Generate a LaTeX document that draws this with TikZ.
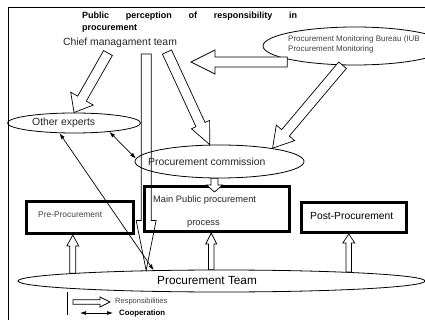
\documentclass[tikz,border=0pt]{standalone}
\usepackage{fontspec}
\setmainfont{Liberation Sans}
\usetikzlibrary{arrows.meta,calc,shapes.geometric}
\tikzset{%
	bubble/.style   = {draw, ellipse, line width=0.8pt, inner sep=0pt},
	stage/.style    = {draw, rectangle, line width=2.6pt, inner sep=0pt},
	txt/.style      = {inner sep=0pt, font=\fontsize{10.4}{12}\selectfont, text=black!85},
	smalltxt/.style = {inner sep=0pt, font=\fontsize{7.5}{9}\selectfont, text=black!75},
	resp/.style     = {draw, fill=white, line width=0.7pt}, % Responsibility
	coop/.style     = {line width=0.7pt, {Latex[length=6pt,width=4pt]}-{Latex[length=6pt,width=4pt]}}, % Cooperation
}
% hollow arrow: from, to, shaft width, head width, head length
\newcommand{\resparrow}[6][]{%
	\draw [resp,#1] let \p1=#2, \p2=#3, \n1={atan2(\y2-\y1,\x2-\x1)}, \n2={veclen(\x2-\x1,\y2-\y1)} in
		[shift={(\p1)}, rotate=\n1] (0,{#4/2}) -- ({\n2-#6},{#4/2}) -- ({\n2-#6},{#5/2}) -- (\n2,0)
		-- ({\n2-#6},{-#5/2}) -- ({\n2-#6},{-#4/2}) -- (0,{-#4/2}) -- cycle;}

\begin{document}
\begin{tikzpicture}[x=1pt,y=-1pt]
	\useasboundingbox (0,0) rectangle (425,320);
	\draw [line width=0.8pt] (425,7) -- (8,7) -- (8,320);

	\node [anchor=north west, inner sep=0pt, align=left, font=\bfseries\fontsize{9}{12}\selectfont] (title) at (82,11.4)
		{\makebox[215pt][s]{Public perception of responsibility in}\\procurement};
	\node [txt] (chief) at (120,43) {Chief managament team};
	\node [bubble, minimum width=184pt, minimum height=38pt] (iub) at (355,46) {};
	\node [smalltxt, anchor=north west, align=left, font=\fontsize{8}{9.5}\selectfont] (iublbl) at (288,36) {Procurement Monitoring Bureau (IUB\\Procurement Monitoring};
	\node [bubble, minimum width=133pt, minimum height=20pt] (oth) at (74,123) {};
	\node [txt, anchor=west] (othlbl) at (32,123) {Other experts};
	\node [bubble, minimum width=169pt, minimum height=33pt] (comm) at (219.5,161.5) {};
	\node [txt, anchor=west] (commlbl) at (148,162) {Procurement commission};

	\node [stage, minimum width=107.4pt, minimum height=32.4pt] (pre) at (80,217.5) {};
	\node [smalltxt, anchor=west, font=\fontsize{8.4}{10}\selectfont] (prelbl) at (38,215) {Pre-Procurement};
	\node [stage, minimum width=145.4pt, minimum height=45.4pt] (main) at (217,209) {};
	\node [txt, anchor=west, font=\fontsize{9.3}{11}\selectfont] (mainlbl) at (153,200) {Main Public procurement};
	\node [txt, font=\fontsize{9.3}{11}\selectfont] (proclbl) at (203.5,224) {process};
	\node [stage, minimum width=105.4pt, minimum height=30.4pt] (post) at (354,217.5) {};
	\node [txt, anchor=west, text=black, font=\fontsize{10.3}{12}\selectfont] (postlbl) at (310,216) {Post-Procurement};

	\node [bubble, minimum width=407pt, minimum height=22pt] (team) at (221.5,281) {};
	\node [txt, anchor=west, text=black, font=\fontsize{11.8}{14}\selectfont] (teamlbl) at (157,280) {Procurement Team};

	% responsibilities
	\coordinate (toChief) at (191,62);
	\resparrow{($(chief.south)+(-12,5)$)}{(oth.north)}{10}{26}{16}
	\resparrow{($(chief.south)+(47,4)$)}{(comm.120)}{10}{20}{22}
	\resparrow{(iub.-123)}{(comm.14)}{10}{24}{20}
	\resparrow{(iub.191.6 |- toChief)}{(toChief)}{10}{24}{24}
	\resparrow[fill=none]{($(team.172.8 |- chief.south)+(0,6)$)}{(team.172.8)}{10}{20}{50}
	\resparrow{($(comm.south)+(-5,0)$)}{($(comm.south |- main.north)+(-5,7)$)}{7}{16}{7}
	\resparrow{(team.177.4)}{(team.177.4 |- pre.south)}{6}{12}{11}
	\resparrow{(team.132.3)}{(team.132.3 |- main.south)}{5.5}{11}{11}
	\resparrow{(team.4.5)}{(team.4.5 |- post.south)}{5.5}{12}{9}

	% cooperation
	\draw [coop] (oth.-145) -- (team.171.8);
	\draw [coop] (oth.-14) -- (comm.178);

	% legend
	\coordinate (legtop) at (67.7,292);
	\coordinate (legbot) at (67.7,315);
	\coordinate (respA) at (73,302);
	\coordinate (respB) at (110,302);
	\coordinate (coopA) at (80,313);
	\coordinate (coopB) at (113,313);
	\draw [line width=0.7pt] (legtop) -- (legbot);
	\resparrow{(respA)}{(respB)}{4.5}{10}{10}
	\draw [coop] (coopA) -- (coopB);
	\node [smalltxt, anchor=west] (resplbl) at (115,302) {Responsibilities};
	\node [anchor=west, inner sep=0pt, font=\bfseries\fontsize{7.8}{9}\selectfont] (cooplbl) at (119,313) {Cooperation};
\end{tikzpicture}
\end{document}
